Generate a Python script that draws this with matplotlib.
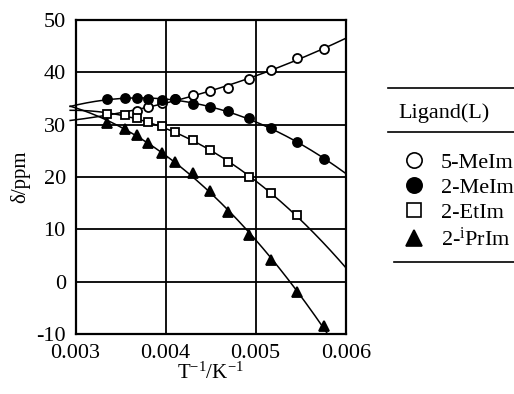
import numpy as np
import matplotlib.pyplot as plt
from matplotlib.lines import Line2D
from matplotlib.patches import Rectangle

plt.rcParams['font.family'] = 'Liberation Serif'
plt.rcParams['mathtext.fontset'] = 'custom'
plt.rcParams['mathtext.rm'] = 'Liberation Serif'
plt.rcParams['mathtext.it'] = 'Liberation Serif:italic'
plt.rcParams['axes.unicode_minus'] = False

# inverse temperature grid (1/K)
inv_T = [0.003353, 0.003553, 0.003679, 0.003805, 0.003957, 0.004108, 0.004301,
         0.004493, 0.004690, 0.004923, 0.005174, 0.005456, 0.005759]

me5_y = [32.7, 33.3, 34.1, 34.9, 35.7, 36.5, 37.1, 38.7, 40.4, 42.7, 44.5]  # from inv_T[2:]
me2_y = [34.9, 35.1, 35.1, 35.0, 34.8, 34.9, 34.0, 33.3, 32.6, 31.3, 29.3, 26.7, 23.5]
et2_y = [32.0, 31.8, 31.2, 30.5, 29.7, 28.6, 27.1, 25.1, 22.9, 20.0, 16.9, 12.7]  # inv_T[:12]
ipr2_y = [30.4, 29.1, 28.1, 26.5, 24.6, 22.9, 20.7, 17.4, 13.3, 9.0, 4.2, -1.9, -8.5]

labels = ['5-MeIm', '2-MeIm', '2-EtIm', '2-$^{\\mathrm{i}}$PrIm']

series = [
    (inv_T[2:], me5_y, 'o', 'white'),
    (inv_T, me2_y, 'o', 'black'),
    (inv_T[:12], et2_y, 's', 'white'),
    (inv_T, ipr2_y, '^', 'black'),
]

fig = plt.figure(figsize=(5.14, 3.94), dpi=100)
ax = fig.add_axes([0.147, 0.152, 0.5256, 0.797])

# fit lines poke a little out of the left spine, clipped elsewhere
clip = Rectangle((-0.03, 0), 1.03, 1, transform=ax.transAxes, visible=False)
ax.add_patch(clip)

xx = np.linspace(0.00294, 0.006, 200)
handles = []
for (x, y, m, fc), lab in zip(series, labels):
    # quadratic fit in 1/T, drawn as the trend line
    c = np.polyfit(x, y, 2)
    ln, = ax.plot(xx, np.polyval(c, xx), color='black', lw=1.1, zorder=2)
    ln.set_clip_path(clip)
    ms = 6.5 if m != '^' else 7
    if m == 's':
        ms = 6
    ax.plot(x, y, m, mfc=fc, mec='black', mew=1.3, ms=ms, zorder=3)
    handles.append(Line2D([], [], ls='none', marker=m, mfc=fc, mec='black',
                          mew=1.2, ms=11 if m != 's' else 10))

ax.set_xlim(0.003, 0.006)
ax.set_ylim(-10, 50)
ax.set_xticks([0.003, 0.004, 0.005, 0.006])
ax.set_xticklabels(['0.003', '0.004', '0.005', '0.006'])
ax.set_yticks(np.arange(-10, 51, 10))
ax.tick_params(length=0, labelsize=16)
ax.tick_params(axis='x', pad=7)
ax.tick_params(axis='y', pad=7)
ax.grid(True, color='black', lw=1.3)
ax.set_axisbelow(True)
for s in ax.spines.values():
    s.set_linewidth(1.6)
ax.set_xlabel('T$^{-1}$/K$^{-1}$', fontsize=15, labelpad=0)
ax.set_ylabel('δ/ppm', fontsize=15, labelpad=4)

# legend box at right
fig.add_artist(Line2D([388 / 514, 1.0], [1 - 88 / 394] * 2, color='black', lw=1.2))
fig.add_artist(Line2D([388 / 514, 1.0], [1 - 132 / 394] * 2, color='black', lw=1.2))
fig.add_artist(Line2D([394 / 514, 1.0], [1 - 262 / 394] * 2, color='black', lw=1.2))
fig.text(444 / 514, 1 - 113 / 394, 'Ligand(L)', fontsize=16, ha='center', va='center')
fig.legend(handles, labels, loc='upper left', bbox_to_anchor=(392 / 514, 1 - 141 / 394),
           frameon=False, fontsize=16, handlelength=1.0, handletextpad=0.7,
           labelspacing=0.2, borderpad=0)

fig.savefig('out.png', dpi=100)
